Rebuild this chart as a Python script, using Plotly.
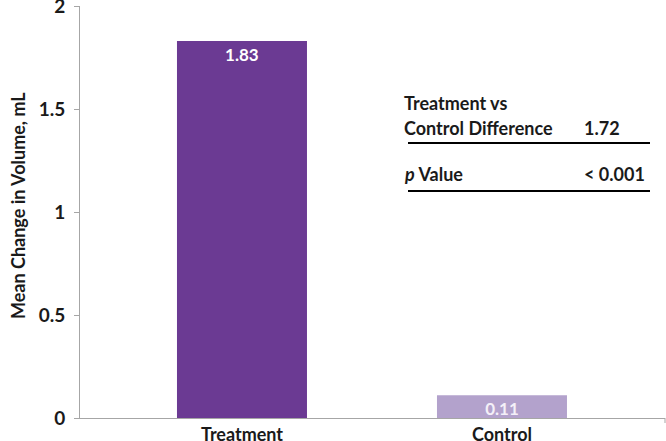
import plotly.graph_objects as go

categories = ["Treatment", "Control"]
values = [1.83, 0.11]
value_labels = ["1.83", "0.11"]
bar_colors = ["#6B3A93", "#B3A2CC"]
y_ticks = [0, 0.5, 1, 1.5, 2]
y_tick_labels = ["0", "0.5", "1", "1.5", "2"]
table_rows = [("Treatment vs<br>Control Difference", "1.72"), ("<i>p</i> Value", "< 0.001")]

FONT = "Lato"
TXT = "#1a1a1a"
W, H = 666, 441
L, R, T, B = 80, 1, 6, 23
PW, PH = W - L - R, H - T - B

def px(x):
    return (x - L) / PW

def py(y):
    return (H - B - y) / PH

fig = go.Figure()
fig.add_trace(go.Bar(
    x=[0, 1], y=values, width=0.5,
    marker=dict(color=bar_colors, line=dict(width=0)),
    text=value_labels, textposition="inside", insidetextanchor="end",
    constraintext="none",
    textfont=dict(family=FONT, size=17, color=["white", "#F4F0F8"], weight="bold"),
    cliponaxis=False,
))

annotations = []
shapes = []
tf = dict(family=FONT, size=18, color=TXT)
annotations.append(dict(x=px(402), y=py(103), xref="paper", yref="paper", xanchor="left", yanchor="middle",
                        text="<b>Treatment vs</b>", showarrow=False, font=tf))
annotations.append(dict(x=px(402), y=py(128), xref="paper", yref="paper", xanchor="left", yanchor="middle",
                        text="<b>Control Difference</b>", showarrow=False, font=tf))
annotations.append(dict(x=px(582), y=py(128), xref="paper", yref="paper", xanchor="left", yanchor="middle",
                        text="<b>" + table_rows[0][1] + "</b>", showarrow=False, font=tf))
annotations.append(dict(x=px(402), y=py(174), xref="paper", yref="paper", xanchor="left", yanchor="middle",
                        text="<b>" + table_rows[1][0] + "</b>", showarrow=False, font=tf))
annotations.append(dict(x=px(582), y=py(174), xref="paper", yref="paper", xanchor="left", yanchor="middle",
                        text="<b>" + table_rows[1][1] + "</b>", showarrow=False, font=tf))
annotations.append(dict(x=px(18), y=py(206), xref="paper", yref="paper", xanchor="center", yanchor="middle",
                        text="<b>Mean Change in Volume, mL</b>", textangle=-90, showarrow=False,
                        font=dict(family=FONT, size=18, color=TXT)))
for yl in (143, 191):
    shapes.append(dict(type="line", xref="paper", yref="paper", x0=px(408), x1=px(650), y0=py(yl), y1=py(yl),
                       line=dict(color="black", width=2)))
shapes.append(dict(type="line", xref="paper", yref="paper", x0=1, x1=1, y0=0, y1=py(H - B + 5),
                   line=dict(color="#A6A6A6", width=1)))

fig.update_layout(
    width=W, height=H,
    margin=dict(l=L, r=R, t=T, b=B, pad=0),
    paper_bgcolor="white", plot_bgcolor="white",
    showlegend=False,
    annotations=annotations, shapes=shapes,
    xaxis=dict(range=[-0.623, 1.627], tickmode="array", tickvals=[0, 1], ticktext=categories,
               showgrid=False, zeroline=False, showline=True, linecolor="#A6A6A6", linewidth=1,
               ticks="", automargin=False, ticklabeloverflow="allow",
               tickfont=dict(family=FONT, size=18, color=TXT, weight="bold")),
    yaxis=dict(range=[0, 2], tickmode="array", tickvals=y_ticks, ticktext=y_tick_labels,
               showgrid=False, zeroline=False, showline=True, linecolor="#A6A6A6", linewidth=1,
               ticks="outside", ticklen=5, tickcolor="#A6A6A6", automargin=False,
               ticklabelstandoff=5, ticklabeloverflow="allow",
               tickfont=dict(family=FONT, size=19, color=TXT, weight="bold")),
)

fig.write_html("out.html", config={"displayModeBar": False},
               post_script="document.body.style.margin='0';document.body.style.padding='0';document.body.style.overflow='hidden';")
